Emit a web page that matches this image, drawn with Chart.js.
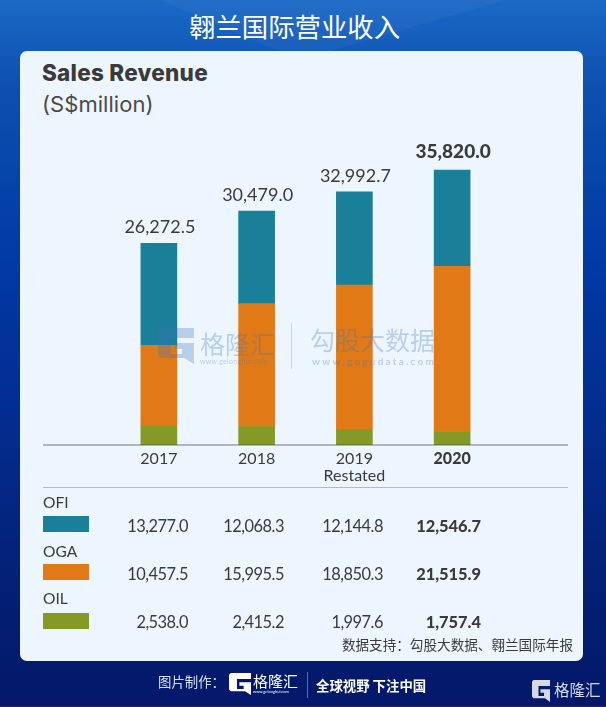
<!DOCTYPE html>
<html>
<head>
<meta charset="utf-8">
<script src="https://cdn.jsdelivr.net/npm/chart.js@4"></script>
<style>
    html, body { margin: 0; padding: 0; }
    body {
        width: 606px; height: 707px; position: relative; overflow: hidden;
        background: linear-gradient(180deg, #1b69c6 0%, #0d50b0 12%, #0039a3 38%, #032b8c 62%, #031f72 85%, #03186a 100%);
        font-family: Lato, sans-serif; color: #3a3a3c;
    }
    .abs { position: absolute; white-space: nowrap; line-height: 1; }
    .cjk { font-family: "Noto Sans CJK SC", sans-serif; }
    #shine { position: absolute; left: 0; top: 0; width: 606px; height: 60px; background: rgba(255,255,255,.035); clip-path: polygon(160px 0, 505px 0, 300px 60px); }
    #card { position: absolute; left: 20px; top: 51px; width: 563px; height: 610px; background: #edf6fe; border-radius: 7px; }
    #chart { position: absolute; left: 0; top: 0; }
    .num { width: 90px; text-align: right; font-size: 16.4px; letter-spacing: -.5px; }
    .swatch { position: absolute; left: 43px; width: 46px; height: 16px; }
    .wm { color: rgba(62,112,185,.3); }
    .logo { position: absolute; }
</style>
</head>
<body>
<div id="shine"></div>
<div class="abs cjk" style="left:189px;top:13px;font-size:26.4px;color:#fff">翱兰国际营业收入</div>
<div id="card"></div>
<div class="abs" style="left:42px;top:62px;font-family:Inter,sans-serif;font-size:22.5px;font-weight:800;letter-spacing:.25px;color:#3a3a3c">Sales Revenue</div>
<div class="abs" style="left:42px;top:93px;font-family:Inter,sans-serif;font-size:22px;letter-spacing:.05px;color:#4a4a4c">(S$million)</div>
<div class="abs" style="left:43px;top:487px;width:525px;height:1px;background:#b4bac0"></div>
<canvas id="chart" width="606" height="707"></canvas>
<div id="table"></div>

<svg class="logo" style="left:158px;top:328px" width="36" height="36" viewBox="0 0 36 36"><path d="M3 0H36V10H13V26H24V21H17V15H36V36L26 30H3L0 27V3Z" fill="rgba(62,112,185,.3)"/></svg>
<div class="abs cjk wm" style="left:200px;top:331px;font-size:25px">格隆汇</div>
<div class="abs wm" style="left:200px;top:358px;font-size:7px;letter-spacing:.3px">www.gelonghui.com</div>
<div class="abs" style="left:291px;top:323px;width:1px;height:46px;background:rgba(62,112,185,.25)"></div>
<div class="abs cjk wm" style="left:310px;top:327px;font-size:25px">勾股大数据</div>
<div class="abs wm" style="left:312px;top:356px;font-size:10px;letter-spacing:2.2px;font-weight:700">www.gogudata.com</div>

<div class="abs cjk" style="right:33px;top:638px;font-size:13.6px;color:#3a3a3c">数据支持：勾股大数据、翱兰国际年报</div>

<div class="abs cjk" style="left:158px;top:675px;font-size:13.4px;color:#d7e1f5">图片制作：</div>
<svg class="logo" style="left:229px;top:673px" width="22" height="22" viewBox="0 0 36 36"><path d="M3 0H36V10H13V26H24V21H17V15H36V36L26 30H3L0 27V3Z" fill="#fff"/></svg>
<div class="abs cjk" style="left:253px;top:673px;font-size:15px;color:#fff">格隆汇</div>
<div class="abs" style="left:253px;top:690px;font-size:4px;color:#fff">www.gelonghui.com</div>
<div class="abs" style="left:307px;top:672px;width:1px;height:26px;background:#5a6ea8"></div>
<div class="abs cjk" style="left:316px;top:679px;font-size:13.4px;font-weight:700;color:#fff">全球视野 下注中国</div>
<svg class="logo" style="left:532px;top:680px" width="18" height="22" viewBox="0 0 36 36" preserveAspectRatio="none"><path d="M3 0H36V10H13V26H24V21H17V15H36V36L26 30H3L0 27V3Z" fill="#d5d9e4"/></svg>
<div class="abs cjk" style="left:554px;top:682px;font-size:15.5px;color:#d5d9e4">格隆汇</div>
<div class="abs" style="left:0;top:706px;width:606px;height:1px;background:#2a2d3a"></div>

<script>
const years = ['2017', '2018', ['2019', 'Restated'], '2020'];
const ofi = [13277.0, 12068.3, 12144.8, 12546.7];
const oga = [10457.5, 15995.5, 18850.3, 21515.9];
const oil = [2538.0, 2415.2, 1997.6, 1757.4];
const totals = [26272.5, 30479.0, 32992.7, 35820.0];

const OFI_COLOR = '#1a8099';
const OGA_COLOR = '#e17a16';
const OIL_COLOR = '#859a26';
const BOLD_YEAR = 3;

const fmt = v => v.toLocaleString('en-US', { minimumFractionDigits: 1, maximumFractionDigits: 1 });

// Baseline and the totals above each stack
const extras = {
    id: 'extras',
    afterDatasetsDraw(chart) {
        const { ctx, scales: { x, y } } = chart;
        const base = y.getPixelForValue(0);
        ctx.save();
        ctx.strokeStyle = 'rgba(70,75,80,.75)';
        ctx.lineWidth = 1.2;
        ctx.beginPath();
        ctx.moveTo(43, base);
        ctx.lineTo(568, base);
        ctx.stroke();

        ctx.textAlign = 'center';
        ctx.textBaseline = 'bottom';
        ctx.fillStyle = '#3a3a3c';
        totals.forEach((t, i) => {
            const bold = i === BOLD_YEAR;
            ctx.font = (bold ? '900 19px' : '18px') + ' Lato, sans-serif';
            ctx.fillText(fmt(t), x.getPixelForValue(i) + 1, y.getPixelForValue(t) - (bold ? 9 : 7));
        });
        ctx.restore();
    }
};

new Chart(document.getElementById('chart'), {
    type: 'bar',
    data: {
        labels: years,
        datasets: [
            { label: 'OIL', data: oil, backgroundColor: OIL_COLOR },
            { label: 'OGA', data: oga, backgroundColor: OGA_COLOR },
            { label: 'OFI', data: ofi, backgroundColor: OFI_COLOR }
        ]
    },
    options: {
        responsive: false,
        animation: false,
        devicePixelRatio: 1,
        layout: { padding: { left: 110, right: 105, top: 138, bottom: 212 } },
        plugins: { legend: { display: false }, tooltip: { enabled: false } },
        datasets: { bar: { barThickness: 36 } },
        scales: {
            x: {
                stacked: true,
                grid: { display: false },
                border: { display: false },
                afterFit(scale) { scale.height = 50; },
                ticks: {
                    padding: -3,
                    color: '#3a3a3c',
                    font: ctx => ({ family: 'Lato, sans-serif', size: 16, weight: ctx.index === BOLD_YEAR ? '900' : '400', lineHeight: 1.08 })
                }
            },
            y: { stacked: true, display: false, min: 0, max: 40000 }
        }
    },
    plugins: [extras]
});

// Legend and value table below the chart
const rows = [
    { name: 'OFI', values: ofi, color: OFI_COLOR, labelY: 495, swatchY: 516, numY: 518 },
    { name: 'OGA', values: oga, color: OGA_COLOR, labelY: 544, swatchY: 564, numY: 566 },
    { name: 'OIL', values: oil, color: OIL_COLOR, labelY: 591, swatchY: 613, numY: 614 }
];
const colRight = [188, 284, 383, 481];
const table = document.getElementById('table');
rows.forEach(r => {
    table.insertAdjacentHTML('beforeend',
        `<div class="abs" style="left:43px;top:${r.labelY}px;font-size:15.5px">${r.name}</div>` +
        `<div class="swatch" style="top:${r.swatchY}px;background:${r.color}"></div>`);
    r.values.forEach((v, i) => {
        const weight = i === BOLD_YEAR ? 'font-weight:900;letter-spacing:0;' : '';
        table.insertAdjacentHTML('beforeend',
            `<div class="abs num" style="left:${colRight[i] - 90}px;top:${r.numY}px;${weight}">${fmt(v)}</div>`);
    });
});
</script>
</body>
</html>
